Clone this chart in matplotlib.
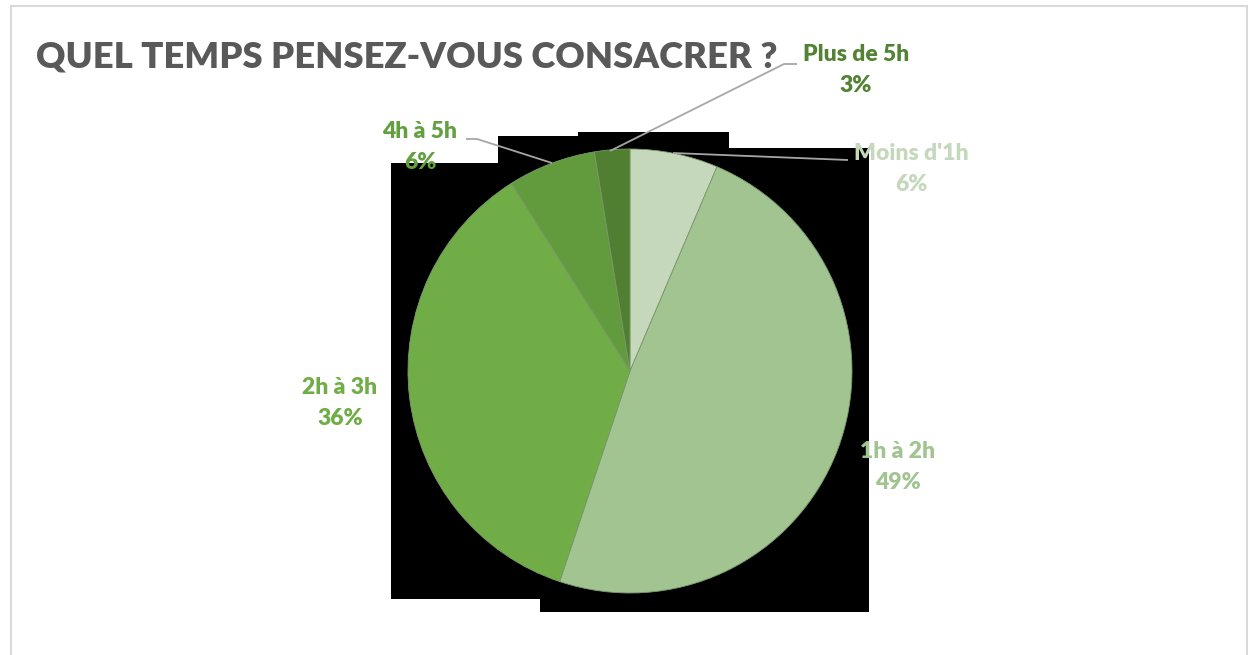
import matplotlib
matplotlib.use("Agg")
import matplotlib.pyplot as plt
from matplotlib.patches import Rectangle

# ---- data ----
categories = ["Moins d'1h", "1h à 2h", "2h à 3h", "4h à 5h", "Plus de 5h"]
counts = [5, 38, 28, 5, 2]
slice_colors = ["#C5D8BC", "#A2C491", "#70AD47", "#619B3E", "#507F32"]
title = "QUEL TEMPS PENSEZ-VOUS CONSACRER ?"

W, H = 1248, 655
fig = plt.figure(figsize=(W / 100, H / 100), dpi=100)
ax = fig.add_axes([0, 0, 1, 1])
ax.set_xlim(0, W)
ax.set_ylim(0, H)
ax.set_aspect("equal")
ax.axis("off")

def Y(y):
    return H - y

FONT = ["Lato", "DejaVu Sans"]

# chart frame
ax.add_patch(Rectangle((11, Y(700)), 1236, 700 - 6, fill=False,
                       edgecolor="#D9D9D9", lw=1.5, zorder=0))

# black artefact rectangles behind the pie (as rendered in the reference)
black_boxes = [(391, 163, 630, 599), (498, 136, 630, 599), (578, 132, 729, 420),
               (630, 148, 869, 612), (540, 420, 869, 612)]
for x0, y0, x1, y1 in black_boxes:
    ax.add_patch(Rectangle((x0, Y(y1)), x1 - x0, y1 - y0, facecolor="black",
                           edgecolor="none", zorder=1))

cx, cy, r = 630, 371, 222
wedges, _ = ax.pie(counts, colors=slice_colors, startangle=90, counterclock=False,
                   center=(cx, Y(cy)), radius=r, frame=True,
                   wedgeprops=dict(edgecolor="#7C9A6E", linewidth=0.6))
for w in wedges:
    w.set_zorder(2)
ax.set_xlim(0, W)
ax.set_ylim(0, H)
ax.axis("off")

total = sum(counts)
pcts = [f"{round(100 * c / total)}%" for c in counts]

label_pos = [(911, 169), (898, 467), (340, 403), (420, 147), (856, 70)]
label_colors = ["#C5D8BC", "#A2C491", "#70AD47", "#63A040", "#548235"]
for cat, p, (lx, ly), col in zip(categories, pcts, label_pos, label_colors):
    ax.text(lx, Y(ly), f"{cat}\n{p}", ha="center", va="center", color=col,
            fontsize=16.5, fontweight="heavy", family=FONT, linespacing=1.55, zorder=4)

# leader lines
leaders = [
    [(673, 153), (848, 160)],
    [(552, 163), (477, 139), (466, 139)],
    [(610, 151), (784, 64), (797, 64)],
]
for pts in leaders:
    xs = [p[0] for p in pts]
    ys = [Y(p[1]) for p in pts]
    ax.plot(xs, ys, color="#A6A6A6", lw=1.3, zorder=3, solid_capstyle="butt")

ax.text(36, Y(57), title, ha="left", va="center", color="#595959",
        fontsize=26.2, fontweight="heavy", family=FONT, zorder=4)

fig.savefig("out.png", dpi=100)
